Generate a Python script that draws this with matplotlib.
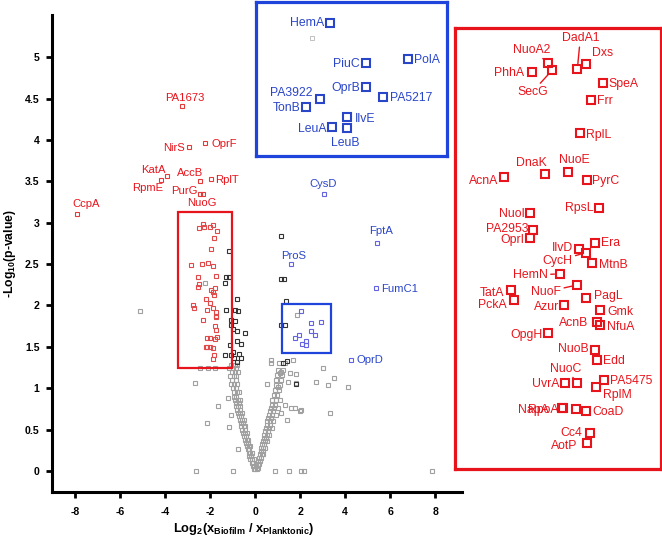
import matplotlib
matplotlib.use("Agg")
import matplotlib.pyplot as plt
from matplotlib import font_manager
from matplotlib.patches import Rectangle

# ---- data: log2 fold change (biofilm / planktonic) vs -log10 p ----

# not significant (grey)
grey_pts = [
    (-5.14, 1.93), (-2.22, 2.27), (-2.70, 1.06), (-1.66, 0.78), (-2.13, 0.58),
    (-1.17, 0.53), (-2.62, 0.00), (-0.99, 0.00), (-0.77, 0.26), (-1.07, 0.68),
    (-1.21, 0.88), (-1.81, 1.25), (-2.10, 1.25), (-2.44, 1.25),
    (0.68, 1.34), (1.68, 1.34), (3.01, 1.24), (3.52, 1.12), (3.23, 1.04),
    (2.71, 1.08), (4.12, 1.01), (1.82, 1.17), (1.53, 1.18), (1.82, 1.06),
    (1.45, 1.07), (3.30, 0.70), (2.04, 0.74), (1.75, 0.76), (1.60, 0.76),
    (1.42, 0.62), (1.16, 0.70), (1.30, 0.80), (0.86, 0.00), (1.52, 0.00),
    (2.01, 0.00), (2.16, 0.00), (7.87, 0.00), (0.53, 1.05), (1.00, 1.02),
    (1.08, 1.18), (0.71, 1.30), (1.12, 1.20), (1.97, 0.73), (1.84, 1.88),
    # left arm of the volcano
    (-1.08, 1.28), (-0.92, 1.28), (-0.80, 1.28), (-1.15, 1.24), (-1.00, 1.24),
    (-0.86, 1.24), (-1.05, 1.20), (-0.90, 1.20), (-0.75, 1.20), (-1.12, 1.15),
    (-0.96, 1.15), (-0.84, 1.15), (-1.02, 1.10), (-0.88, 1.10), (-1.08, 1.05),
    (-0.94, 1.05), (-0.80, 1.05), (-0.98, 1.00), (-0.86, 1.00), (-0.93, 0.95),
    (-0.82, 0.95), (-0.72, 0.95), (-0.96, 0.90), (-0.84, 0.90), (-0.90, 0.86),
    (-0.78, 0.86), (-0.68, 0.86), (-0.84, 0.82), (-0.74, 0.82), (-0.88, 0.78),
    (-0.76, 0.78), (-0.66, 0.78), (-0.80, 0.74), (-0.70, 0.74), (-0.76, 0.70),
    (-0.66, 0.70), (-0.58, 0.70), (-0.72, 0.66), (-0.62, 0.66), (-0.70, 0.62),
    (-0.60, 0.62), (-0.52, 0.62), (-0.64, 0.58), (-0.56, 0.58), (-0.62, 0.54),
    (-0.52, 0.54), (-0.45, 0.54), (-0.58, 0.50), (-0.48, 0.50), (-0.54, 0.46),
    (-0.44, 0.46), (-0.38, 0.46), (-0.50, 0.42), (-0.42, 0.42), (-0.46, 0.38),
    (-0.38, 0.38), (-0.32, 0.38), (-0.42, 0.34), (-0.34, 0.34), (-0.38, 0.30),
    (-0.30, 0.30), (-0.24, 0.30), (-0.34, 0.26), (-0.26, 0.26), (-0.30, 0.22),
    (-0.22, 0.22), (-0.16, 0.22), (-0.26, 0.18), (-0.18, 0.18), (-0.22, 0.14),
    (-0.14, 0.14), (-0.08, 0.14), (-0.16, 0.10), (-0.10, 0.10), (-0.12, 0.06),
    (-0.05, 0.06), (0.02, 0.06), (-0.06, 0.02), (0.00, 0.02), (0.06, 0.02),
    # right arm
    (0.08, 0.04), (0.12, 0.04), (0.10, 0.08), (0.16, 0.08), (0.14, 0.12),
    (0.20, 0.12), (0.16, 0.16), (0.24, 0.16), (0.20, 0.20), (0.28, 0.20),
    (0.36, 0.20), (0.24, 0.24), (0.32, 0.24), (0.26, 0.28), (0.36, 0.28),
    (0.44, 0.28), (0.30, 0.32), (0.40, 0.32), (0.34, 0.36), (0.44, 0.36),
    (0.54, 0.36), (0.38, 0.40), (0.48, 0.40), (0.40, 0.44), (0.52, 0.44),
    (0.62, 0.44), (0.44, 0.48), (0.56, 0.48), (0.46, 0.52), (0.60, 0.52),
    (0.72, 0.52), (0.50, 0.56), (0.64, 0.56), (0.52, 0.60), (0.66, 0.60),
    (0.80, 0.60), (0.58, 0.64), (0.70, 0.64), (0.60, 0.68), (0.74, 0.68),
    (0.90, 0.68), (0.64, 0.72), (0.80, 0.72), (0.68, 0.76), (0.84, 0.76),
    (1.00, 0.76), (0.72, 0.80), (0.88, 0.80), (0.76, 0.86), (0.92, 0.86),
    (1.10, 0.86), (0.82, 0.92), (0.98, 0.92), (0.86, 0.98), (1.04, 0.98),
    (0.90, 1.04), (1.10, 1.04), (0.94, 1.10), (1.14, 1.10), (0.98, 1.16),
    (1.20, 1.16), (1.02, 1.22), (1.24, 1.22), (1.06, 1.30), (1.30, 1.30),
]

# significant, not highlighted (black)
black_pts = [
    (-1.19, 2.66), (-1.29, 2.35), (-1.17, 2.35), (-1.36, 2.27), (-0.82, 2.08),
    (-1.32, 1.94), (-0.89, 1.94), (-0.77, 1.93), (-1.10, 1.82), (-0.92, 1.81),
    (-1.10, 1.76), (-1.01, 1.72), (-0.80, 1.69), (-0.47, 1.67), (-1.14, 1.52),
    (-0.80, 1.57), (-0.65, 1.53), (-0.99, 1.44), (-1.36, 1.40), (-1.10, 1.40),
    (-0.73, 1.41), (-0.80, 1.32), (-0.95, 1.36), (-0.62, 1.36),
    (1.16, 2.84), (1.16, 2.32), (1.27, 2.32), (1.35, 2.06), (1.16, 1.76),
    (1.30, 1.76), (1.23, 1.30), (1.42, 1.33), (1.82, 1.05),
]

# labelled outliers drawn in the main panel
red_names = ["PA1673", "NirS", "OprF", "KatA", "RpmE", "AccB", "RplT",
             "PurG", "NuoG", "CcpA"]
red_x = [-3.24, -2.95, -2.22, -3.92, -4.21, -2.47, -1.99, -2.44, -2.34, -7.94]
red_y = [4.41, 3.92, 3.96, 3.57, 3.52, 3.51, 3.53, 3.35, 3.35, 3.10]

blue_names = ["CysD", "FptA", "ProS", "FumC1", "OprD"]
blue_x = [3.05, 5.41, 1.60, 5.38, 4.24]
blue_y = [3.35, 2.76, 2.50, 2.21, 1.34]

# proteins in the red box (shown enlarged on the right)
red_box_names = ["PhhA", "NuoA2", "SecG", "DadA1", "Dxs", "SpeA", "Frr", "RplL",
                 "DnaK", "NuoE", "PyrC", "AcnA", "RpsL", "NuoI", "PA2953", "OprI",
                 "IlvD", "Era", "CycH", "MtnB", "HemN", "NuoF", "TatA", "PckA",
                 "PagL", "Azur", "Gmk", "AcnB", "NfuA", "OpgH", "NuoB", "Edd",
                 "NuoC", "UvrA", "PA5475", "RplM", "NapA", "RpoA", "", "CoaD",
                 "Cc4", "AotP"]
red_box_x = [-2.520, -2.333, -2.286, -1.995, -1.897, -1.699, -1.836, -1.964,
             -2.372, -2.107, -1.886, -2.849, -1.742, -2.546, -2.508, -2.546,
             -1.975, -1.789, -1.897, -1.827, -2.197, -1.995, -2.771, -2.729,
             -1.894, -2.147, -1.731, -1.762, -1.731, -2.333, -1.789, -1.762,
             -1.995, -2.139, -1.684, -1.781, -2.177, -2.158, -2.014, -1.894,
             -1.847, -1.886]
red_box_y = [2.940, 2.981, 2.950, 2.953, 2.976, 2.896, 2.821, 2.681,
             2.503, 2.514, 2.479, 2.490, 2.360, 2.338, 2.264, 2.229,
             2.182, 2.210, 2.167, 2.123, 2.076, 2.029, 2.007, 1.964,
             1.974, 1.943, 1.921, 1.871, 1.857, 1.822, 1.750, 1.707,
             1.610, 1.607, 1.621, 1.593, 1.500, 1.500, 1.497, 1.490,
             1.396, 1.350]

# proteins in the blue box (shown enlarged at the top)
blue_box_names = ["HemA", "PiuC", "PolA", "OprB", "PA3922", "PA5217", "TonB",
                  "IlvE", "LeuA", "LeuB"]
blue_box_x = [2.045, 2.456, 2.938, 2.456, 1.930, 2.646, 1.771, 2.242, 2.064, 2.235]
blue_box_y = [1.937, 1.784, 1.797, 1.688, 1.641, 1.649, 1.610, 1.573, 1.532, 1.528]

x_ticks = [-8, -6, -4, -2, 0, 2, 4, 6, 8]
y_ticks = [0, 0.5, 1, 1.5, 2, 2.5, 3, 3.5, 4, 4.5, 5]

# ---- layout ----
RED_BOX = (-3.42, -1.02, 1.24, 3.13)   # x0, x1, y0, y1
BLUE_BOX = (1.20, 3.38, 1.42, 2.02)

# label offsets in pixels (dx, dy, ha); names in LEADERS get a connector line
LABEL_POS = {
    "PA1673": (2, 8, "center"), "NirS": (-4, -1, "right"), "OprF": (6, -1, "left"),
    "KatA": (-2, 6, "right"), "RpmE": (3, -8, "right"), "AccB": (-10, 8, "center"),
    "RplT": (5, -1, "left"), "PurG": (-3, 3, "right"), "NuoG": (-1, -9, "center"),
    "CcpA": (9, 10, "center"),
    "CysD": (-1, 10, "center"), "FptA": (4, 12, "center"), "ProS": (2, 8, "center"),
    "FumC1": (5, -1, "left"), "OprD": (6, 0, "left"),
    "PhhA": (-8, -1, "right"), "NuoA2": (-17, 13, "center"), "SecG": (-20, -22, "center"),
    "DadA1": (3, 31, "center"), "Dxs": (6, 11, "left"), "SpeA": (6, -1, "left"),
    "Frr": (6, -1, "left"), "RplL": (6, -2, "left"), "DnaK": (2, 11, "right"),
    "NuoE": (7, 12, "center"), "PyrC": (5, -1, "left"), "AcnA": (-6, -4, "right"),
    "RpsL": (-6, 0, "right"), "NuoI": (-5, -1, "right"), "PA2953": (-5, 1, "right"),
    "OprI": (-6, -2, "right"), "IlvD": (-6, 1, "right"), "Era": (6, 0, "left"),
    "CycH": (-13, -8, "right"), "MtnB": (7, -2, "left"), "HemN": (-12, -1, "right"),
    "NuoF": (-16, -7, "right"), "TatA": (-7, -3, "right"), "PckA": (-8, -5, "right"),
    "PagL": (8, 2, "left"), "Azur": (-5, -2, "right"), "Gmk": (7, -2, "left"),
    "AcnB": (-9, -1, "right"), "NfuA": (7, -2, "left"), "OpgH": (-6, -2, "right"),
    "NuoB": (-6, 1, "right"), "Edd": (6, -1, "left"), "NuoC": (-12, 14, "center"),
    "UvrA": (-6, -1, "right"), "PA5475": (6, -1, "left"), "RplM": (7, -8, "left"),
    "NapA": (-13, -2, "right"), "RpoA": (-5, -2, "right"), "CoaD": (6, -1, "left"),
    "Cc4": (-8, 0, "right"), "AotP": (-9, -3, "right"),
    "HemA": (-6, 0, "right"), "PiuC": (-6, -1, "right"), "PolA": (6, -1, "left"),
    "OprB": (-6, -1, "right"), "PA3922": (-7, 6, "right"), "PA5217": (7, -1, "left"),
    "TonB": (-6, -1, "right"), "IlvE": (8, -2, "left"), "LeuA": (-5, -2, "right"),
    "LeuB": (-1, -15, "center"),
}
LEADERS = {"NuoA2", "SecG", "DadA1", "CycH", "HemN", "NuoF", "NuoC"}

RED = "#e8141c"
RED_LIGHT = "#e04a4a"
BLUE = "#1f44dc"
BLUE_TEXT = "#2a46c8"
BLUE_LIGHT = "#6464e2"
GREY = "#a0a0a0"
BLACK = "#333333"

names = {f.name for f in font_manager.fontManager.ttflist}
if "Liberation Sans Narrow" in names:
    FONT, S = "Liberation Sans Narrow", 1.0
else:
    FONT, S = "Liberation Sans", 0.84
plt.rcParams["font.family"] = [FONT, "DejaVu Sans"]
plt.rcParams["mathtext.fontset"] = "custom"
plt.rcParams["mathtext.rm"] = FONT
plt.rcParams["mathtext.bf"] = FONT + ":bold"
plt.rcParams["mathtext.it"] = FONT + ":italic"


def squares(a, xs, ys, color, ms, mew, z=3):
    a.plot(xs, ys, "s", ms=ms, mfc="none", mec=color, mew=mew, ls="none", zorder=z)


def labels(a, nms, xs, ys, color, size):
    for n, x, y in zip(nms, xs, ys):
        if not n:
            continue
        dx, dy, ha = LABEL_POS[n]
        arrow = None
        if n in LEADERS:
            arrow = dict(arrowstyle="-", color=color, lw=1.0, shrinkA=0, shrinkB=4)
        a.annotate(n, xy=(x, y), xytext=(dx, dy), textcoords="offset pixels",
                   ha=ha, va="center", color=color, fontsize=size,
                   arrowprops=arrow, annotation_clip=False, zorder=6)


fig = plt.figure(figsize=(6.62, 5.37), dpi=100)
ax = fig.add_axes([52 / 662, 45 / 537, 410 / 662, 477 / 537])
ax.set_xlim(-9.04, 9.19)
ax.set_ylim(-0.254, 5.51)

gx, gy = zip(*grey_pts)
bx, by = zip(*black_pts)
squares(ax, gx, gy, GREY, 3.3, 0.8, z=2)
squares(ax, bx, by, BLACK, 3.3, 0.8)
squares(ax, red_box_x, red_box_y, RED_LIGHT, 3.3, 0.8)
squares(ax, blue_box_x, blue_box_y, BLUE_LIGHT, 3.3, 0.8)
squares(ax, red_x, red_y, "#e43a3a", 3.3, 0.8)
squares(ax, blue_x, blue_y, BLUE_LIGHT, 3.3, 0.8)
labels(ax, red_names, red_x, red_y, RED, 9.6 * S)
labels(ax, blue_names, blue_x, blue_y, BLUE_TEXT, 9.6 * S)

for (x0, x1, y0, y1), c in [(RED_BOX, RED), (BLUE_BOX, BLUE)]:
    ax.add_patch(Rectangle((x0, y0), x1 - x0, y1 - y0, fill=False, ec=c,
                           lw=1.6, zorder=5))

for side in ["top", "right"]:
    ax.spines[side].set_visible(False)
for side in ["left", "bottom"]:
    ax.spines[side].set_linewidth(2.2)
ax.set_xticks(x_ticks)
ax.set_xticklabels([f"{v:d}" for v in x_ticks])
ax.set_yticks(y_ticks)
ax.set_yticklabels([f"{v:g}" for v in y_ticks])
ax.tick_params(direction="out", length=4, width=2, labelsize=9 * S)
ax.tick_params(axis="x", pad=7)
ax.tick_params(axis="y", pad=5)
for t in ax.get_xticklabels() + ax.get_yticklabels():
    t.set_fontweight("bold")
ax.set_xlabel(r"Log$_{\mathbf{2}}$(x$_{\mathbf{Biofilm}}$ / x$_{\mathbf{Planktonic}}$)",
              fontsize=11 * S, fontweight="bold")
ax.xaxis.set_label_coords(0.468, -0.061)
ax.set_ylabel(r"-Log$_{\mathbf{10}}$(p-value)", fontsize=10.5 * S,
              fontweight="bold", labelpad=5)

# enlarged views of the two boxes
insets = [
    ([455 / 662, 68 / 537, 206 / 662, 441 / 537], RED_BOX, RED,
     red_box_names, red_box_x, red_box_y, RED),
    ([256 / 662, 381 / 537, 191 / 662, 154 / 537], BLUE_BOX, BLUE,
     blue_box_names, blue_box_x, blue_box_y, BLUE_TEXT),
]
for rect, (x0, x1, y0, y1), frame, nms, xs, ys, tc in insets:
    ia = fig.add_axes(rect)
    ia.set_xlim(x0, x1)
    ia.set_ylim(y0, y1)
    ia.set_xticks([])
    ia.set_yticks([])
    for sp in ia.spines.values():
        sp.set_color(frame)
        sp.set_linewidth(2.3)
    squares(ia, xs, ys, tc, 6.2, 1.5)
    if frame == BLUE:
        inside = [(x, y) for x, y in grey_pts if x0 < x < x1 and y0 < y < y1]
        if inside:
            ix, iy = zip(*inside)
            squares(ia, ix, iy, "#c0c0c0", 3, 0.7)
    labels(ia, nms, xs, ys, tc, 10.5 * S)

fig.savefig("out.png", dpi=100)
